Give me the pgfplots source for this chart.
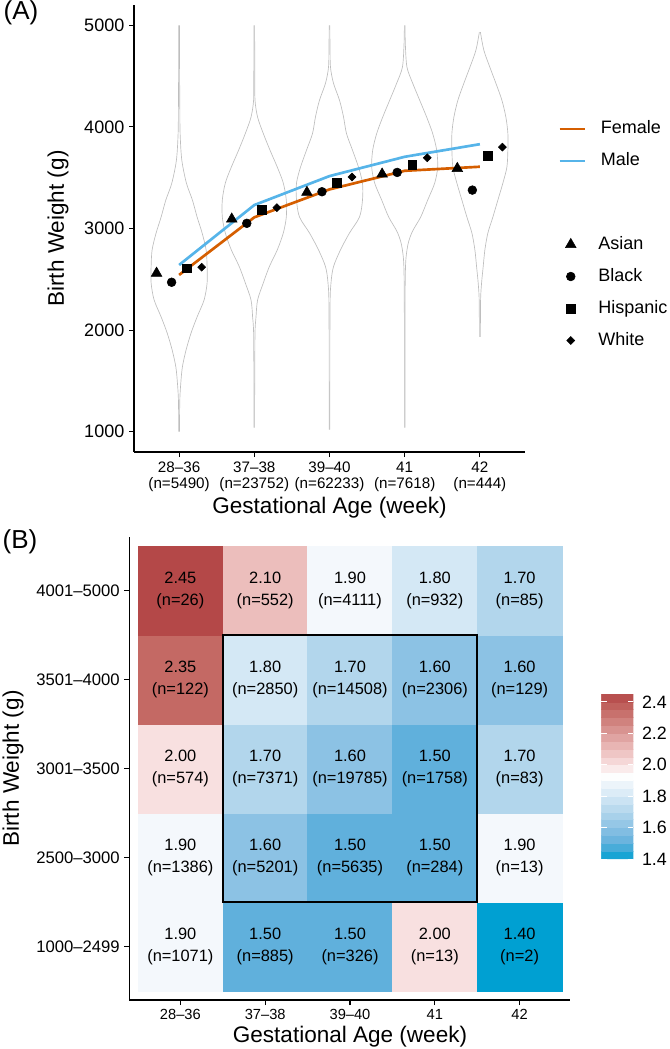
\documentclass[border=0pt]{standalone}
\usepackage{pgfplots}
\pgfplotsset{compat=1.18}
\usepackage{pgfplotstable}
\usepackage{fontspec}
\setmainfont{Liberation Sans}

\definecolor{female}{HTML}{D55E00}
\definecolor{male}{HTML}{56B4E9}
\definecolor{violin}{RGB}{190,190,190}

\pgfplotsset{
  /pgf/number format/assume math mode=true,
  /pgf/number format/1000 sep={},
  gg/.style={
    scale only axis,
    axis x line*=bottom, axis y line*=left,
    axis line style={-, line width=0.8pt},
    tick style={black, line width=0.8pt},
    major tick length=3.75pt,
    tick align=outside,
    label style={font=\fontsize{16.9}{18}\selectfont},
  },
  gglegend/.style={
    legend cell align=left,
    legend style={draw=none, fill=none, inner sep=0pt,
      font=\fontsize{13.5}{14}\selectfont,
      row sep=11pt, column sep=11.25pt,
      nodes={inner sep=0pt, text height=10pt, text depth=3pt}},
  },
  vio/.style={violin, line width=0.5pt, smooth, forget plot},
}

% violin outlines: birth weight (g) and half width in pixels (75.2 px = one category)
\pgfplotstableread{
g hw
5000 0.3
4500 0.5
4200 0.7
3935 1
3673 2.7
3447 7.3
3280 13.3
3113 18
2956 23
2790 27
2624 28
2464 28
2297 25
2130 18
1973 12
1806 7
1639 3.3
1481 1.7
1314 0.7
1000 0.3
}\vA
\pgfplotstableread{
g hw
5000 0.3
4500 0.5
4263 0.7
4096 3.3
3935 9
3771 15.7
3604 23
3447 29
3280 32
3113 32
2956 29
2790 23
2624 15
2464 9
2297 3.3
2130 1.7
1973 0.7
1500 0.4
1040 0.3
}\vB
\pgfplotstableread{
g hw
5000 0.3
4800 0.5
4587 1
4430 4
4263 10
4100 14
3935 17
3771 23
3604 29
3447 33
3280 33
3113 30
2956 20
2790 11
2624 4
2464 1.5
2200 0.5
1020 0.3
}\vC
\pgfplotstableread{
g hw
5000 0.3
4800 0.7
4587 2.3
4430 8
4263 15
4096 22
3935 28
3771 32
3604 33
3447 30
3280 23
3113 16
2956 7
2790 2.3
2464 0.5
1040 0.3
}\vD
\pgfplotstableread{
g hw
4934 0.5
4754 4
4587 10
4430 16
4263 22
4096 26
3935 28
3771 28
3604 27
3447 23
3280 18
3113 13
2956 8
2790 5
2624 3.3
2464 1.7
2297 0.7
1934 0.5
}\vE

\pgfplotstableread{
x Female Male
1 2543 2641
2 3110 3231
3 3385 3516
4 3568 3706
5 3608 3830
}\sexmeans

\pgfplotstableread{
grp Asian Black Hispanic White
1 2560 2471 2609 2619
2 3093 3051 3185 3205
3 3356 3362 3452 3507
4 3536 3552 3624 3696
5 3591 3378 3713 3801
}\race

\pgfplotstableread{
x y c n
1 1 1.90 1071
2 1 1.50 885
3 1 1.50 326
4 1 2.00 13
5 1 1.40 2
1 2 1.90 1386
2 2 1.60 5201
3 2 1.50 5635
4 2 1.50 284
5 2 1.90 13
1 3 2.00 574
2 3 1.70 7371
3 3 1.60 19785
4 3 1.50 1758
5 3 1.70 83
1 4 2.35 122
2 4 1.80 2850
3 4 1.70 14508
4 4 1.60 2306
5 4 1.60 129
1 5 2.45 26
2 5 2.10 552
3 5 1.90 4111
4 5 1.80 932
5 5 1.70 85
}\heat

\begin{document}
\begin{tikzpicture}
\path[use as bounding box] (0pt,0pt) rectangle (501.75pt,-786.75pt);
\node[font=\fontsize{19.5}{20}\selectfont] at (15.75pt,-9.75pt) {(A)};
\node[font=\fontsize{19.5}{20}\selectfont] at (15pt,-406.5pt) {(B)};

% ---------------- panel A ----------------
\begin{axis}[gg, gglegend,
  at={(100.5pt,-339pt)}, anchor=south west,
  width=293.25pt, height=335.25pt,
  xmin=0.4, xmax=5.6, ymin=800, ymax=5200,
  xtick={1,2,3,4,5},
  xticklabels={28--36\\(n=5490), 37--38\\(n=23752), 39--40\\(n=62233), 41\\(n=7618), 42\\(n=444)},
  xticklabel style={align=center, font=\fontsize{11.4}{12}\selectfont},
  ytick={1000,2000,3000,4000,5000},
  yticklabel style={font=\fontsize{13.5}{14}\selectfont},
  xlabel={Gestational Age (week)}, ylabel={Birth Weight (g)},
  xlabel style={at={(axis description cs:0.5,-0.125)}, anchor=center},
  ylabel style={at={(axis description cs:-0.194,0.5)}, anchor=center},
  legend style={at={(axis description cs:1.0844,0.6868)}, anchor=west},
  legend image code/.code={\draw[#1] (0pt,0pt) -- (18.75pt,0pt);},
]
\addplot[vio] table[x expr=1+\thisrow{hw}/75.2, y=g] {\vA};
\addplot[vio] table[x expr=1-\thisrow{hw}/75.2, y=g] {\vA};
\addplot[vio] table[x expr=2+\thisrow{hw}/75.2, y=g] {\vB};
\addplot[vio] table[x expr=2-\thisrow{hw}/75.2, y=g] {\vB};
\addplot[vio] table[x expr=3+\thisrow{hw}/75.2, y=g] {\vC};
\addplot[vio] table[x expr=3-\thisrow{hw}/75.2, y=g] {\vC};
\addplot[vio] table[x expr=4+\thisrow{hw}/75.2, y=g] {\vD};
\addplot[vio] table[x expr=4-\thisrow{hw}/75.2, y=g] {\vD};
\addplot[vio] table[x expr=5+\thisrow{hw}/75.2, y=g] {\vE};
\addplot[vio] table[x expr=5-\thisrow{hw}/75.2, y=g] {\vE};
\addplot[female, line width=2pt] table[x=x, y=Female] {\sexmeans};
\addlegendentry{Female}
\addplot[male, line width=2pt] table[x=x, y=Male] {\sexmeans};
\addlegendentry{Male}
\addplot[black, only marks, mark=triangle*, mark size=4.6pt, forget plot] table[x expr=\thisrow{grp}-0.3, y=Asian] {\race};
\addplot[black, only marks, mark=*, mark size=3.3pt, forget plot] table[x expr=\thisrow{grp}-0.1, y=Black] {\race};
\addplot[black, only marks, mark=square*, mark size=3.3pt, forget plot] table[x expr=\thisrow{grp}+0.1, y=Hispanic] {\race};
\addplot[black, only marks, mark=square*, mark size=2.1pt, mark options={rotate=45}, forget plot] table[x expr=\thisrow{grp}+0.3, y=White] {\race};
\end{axis}

% second legend of panel A (race)
\begin{axis}[gglegend,
  at={(100.5pt,-339pt)}, anchor=south west, scale only axis,
  width=293.25pt, height=335.25pt, hide axis,
  xmin=0, xmax=1, ymin=0, ymax=1,
  legend style={at={(axis description cs:1.0844,0.3568)}, anchor=west},
  legend image code/.code={\path[draw=none, fill=none] (0pt,0pt) -- (18.75pt,0pt);
    \draw[#1] plot coordinates {(9.375pt,0pt)};},
]
\addlegendimage{black, only marks, mark=triangle*, mark size=4.6pt}
\addlegendentry{Asian}
\addlegendimage{black, only marks, mark=*, mark size=3.3pt}
\addlegendentry{Black}
\addlegendimage{black, only marks, mark=square*, mark size=3.3pt}
\addlegendentry{Hispanic}
\addlegendimage{black, only marks, mark=square*, mark size=2.1pt, mark options={rotate=45}}
\addlegendentry{White}
\end{axis}

% ---------------- panel B ----------------
\begin{axis}[gg,
  at={(97.125pt,-750pt)}, anchor=south west,
  width=330.75pt, height=347.25pt,
  xmin=0.4, xmax=5.6, ymin=0.4, ymax=5.6,
  xtick={1,2,3,4,5}, xticklabels={28--36,37--38,39--40,41,42},
  ytick={1,2,3,4,5},
  yticklabels={1000--2499,2500--3000,3001--3500,3501--4000,4001--5000},
  xticklabel style={font=\fontsize{11}{12}\selectfont},
  yticklabel style={font=\fontsize{12.5}{13}\selectfont},
  xlabel={Gestational Age (week)}, ylabel={Birth Weight (g)},
  xlabel style={at={(axis description cs:0.5,-0.080)}, anchor=center},
  ylabel style={at={(axis description cs:-0.264,0.5)}, anchor=center},
  colormap={ratio}{rgb255(140pt)=(0,160,210) rgb255(150pt)=(96,176,220)
    rgb255(160pt)=(140,194,228) rgb255(170pt)=(178,214,236)
    rgb255(180pt)=(212,232,245) rgb255(190pt)=(244,248,252)
    rgb255(193pt)=(255,255,255) rgb255(200pt)=(248,224,224)
    rgb255(210pt)=(236,190,188) rgb255(235pt)=(196,105,100)
    rgb255(245pt)=(180,72,72)},
  point meta min=1.4, point meta max=2.45,
  colorbar sampled,
  colorbar style={
    at={(parent axis.east)}, anchor=west, xshift=14.6pt, yshift=-6pt,
    width=24pt, height=123.75pt,
    samples=22,
    ytick={1.4,1.6,1.8,2.0,2.2,2.4},
    yticklabel style={font=\fontsize{13.4}{14}\selectfont, xshift=3pt,
      /pgf/number format/.cd, fixed, fixed zerofill, precision=1},
    ytick style={draw=white, line width=0.75pt},
    major tick length=4pt,
    tick align=inside,
    axis line style={draw=none},
    ytick pos=both, yticklabel pos=right,
  },
]
\addplot[matrix plot*, mesh/cols=5, point meta=\thisrow{c}] table[x=x, y=y] {\heat};
\addplot[black, line width=1.5pt, mark=none] coordinates {(1.5,1.5) (4.5,1.5) (4.5,4.5) (1.5,4.5)} --cycle;
\addplot[draw=none, mark=none, point meta=\thisrow{c},
  visualization depends on={\thisrow{n} \as \nval},
  nodes near coords={\pgfmathprintnumber[fixed, fixed zerofill, precision=2]{\pgfplotspointmeta}\\(n=\pgfmathprintnumber[fixed, precision=0]{\nval})},
  nodes near coords style={anchor=center, align=center, text=black,
    font=\fontsize{12.3}{17}\selectfont}]
  table[x=x, y=y] {\heat};
\end{axis}
\end{tikzpicture}
\end{document}
